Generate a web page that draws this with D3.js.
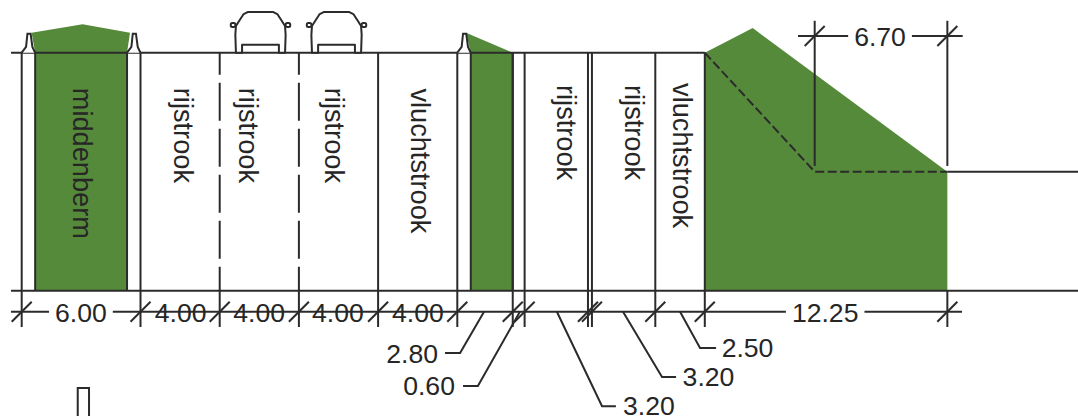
<!DOCTYPE html>
<html>
<head>
<meta charset="utf-8">
<script src="https://cdn.jsdelivr.net/npm/d3@7"></script>
<style>
    html, body { margin: 0; padding: 0; background: #fff; }
    svg { display: block; }
    text { font-family: "Liberation Sans", Arial, sans-serif; fill: #262626; }
</style>
</head>
<body>
<svg id="profile" width="1078" height="416"></svg>
<script>
// widths of the profile parts in metres, left to right
var segmentWidths = [6, 4, 4, 4, 4, 2.8, 0.6, 3.2, 0.2, 3.2, 2.5, 12.25];
var dashedBoundaries = [10, 14];

// lane names: text, baseline in metres, start as height in metres
var laneNames = ["middenberm", "rijstrook", "rijstrook", "rijstrook", "vluchtstrook", "rijstrook", "rijstrook", "vluchtstrook"];
var laneNameAt = [2.59, 7.69, 10.99, 15.32, 19.65, 27.02, 30.46, 32.89];
var laneNameTop = [-1.77, -1.77, -1.77, -1.77, -1.8, -1.63, -1.63, -1.53];

// green verges as [metres, height in metres]
var verges = [
    [[0.5, 1], [3.08, 1.43], [5.47, 1], [5.32, 0], [5.32, -12], [0.68, -12], [0.68, 0]],
    [[22.44, 1], [24.8, 0], [24.8, -12], [22.68, -12], [22.68, 0]],
    [[34.5, 0], [36.92, 1.24], [46.75, -6], [46.75, -12], [34.5, -12]]
];
var vergeEdges = [0.68, 5.32, 22.68, 24.8];
var barriers = [0, 5.32, 22];
var barrierShape = [[0, 0], [0.22, 0.29], [0.29, 0.96], [0.45, 0.96], [0.54, 0.29], [0.68, 0]];
var cars = [12.06, 15.9];
var carShape = [[-1.24, 0], [-0.93, 0], [-0.93, 0.4], [0.93, 0.4], [0.93, 0], [1.24, 0], [1.27, 0.9], [1.24, 1.35], [1.08, 1.6], [0.85, 1.95], [0.65, 2.05], [-0.65, 2.05], [-0.85, 1.95], [-1.08, 1.6], [-1.24, 1.35], [-1.27, 0.9]];
var mirrors = [-1.5, 1.27];

var slopeLine = [[34.5, 0], [40.05, -6], [46.75, -6]];
var dimGroundY = -13.06;
var topDimY = 0.84;
var topDimTicks = [40.05, 46.75];

// dimension texts
var dimLabels = ["6.00", "4.00", "4.00", "4.00", "4.00", "12.25"];
var dimLabelAt = [2.99, 8.03, 11.99, 15.97, 20.01, 40.58];
var topLabel = "6.70";
var topLabelAt = 43.35;

var leaderLabels = ["2.80", "0.60", "3.20", "3.20", "2.50"];
var leaderLabelAt = [21.03, 21.88, 30.37, 33.38, 35.35];
var leaderLabelY = [-15.66, -17.26, -18.27, -16.79, -15.33];
var leaderAnchor = ["end", "end", "start", "start", "start"];
var leaders = [
    [[23.35, -13.06], [22.14, -15.14], [21.38, -15.14]],
    [[25.16, -13.06], [23.04, -16.81], [22.29, -16.81]],
    [[27.03, -13.06], [29.31, -17.82], [30.01, -17.82]],
    [[30.37, -13.06], [32.34, -16.35], [33.05, -16.35]],
    [[33.25, -13.06], [34.26, -14.89], [35.07, -14.89]]
];
var markerBox = [[2.83, -18.6], [2.83, -16.91], [3.4, -16.91], [3.4, -18.6]];

var ink = "#2b2b2b";
var green = "#568a3b";
var strokeWidth = 2;

var total = d3.sum(segmentWidths);
var boundaries = [0].concat(Array.from(d3.cumsum(segmentWidths)));
var x = d3.scaleLinear().domain([0, total]).range([21.7, 947.35]);
var y = d3.scaleLinear().domain([0, -12]).range([52.7, 290.7]);

var svg = d3.select("#profile");
var line = d3.line().x(function (d) { return x(d[0]); }).y(function (d) { return y(d[1]); });

function draw(cls, data, path) {
    return svg.selectAll("path." + cls)
        .data(data)
        .enter()
        .append("path")
        .attr("class", cls)
        .attr("d", path || function (d) { return line(d); })
        .attr("fill", "none")
        .attr("stroke", ink)
        .attr("stroke-width", strokeWidth);
}

// verges first, everything else sits on top
svg.selectAll("path.verge")
    .data(verges)
    .enter()
    .append("path")
    .attr("class", "verge")
    .attr("d", function (d) { return line(d) + "Z"; })
    .attr("fill", green);

draw("edge", vergeEdges.map(function (m) { return [[m, 0], [m, -12]]; }));

// road surface, bottom line and ground to the right
var rightEdge = x.invert(1078);
var leftEdge = x.invert(11);
draw("base", [
    [[leftEdge, 0], [34.5, 0]],
    [[leftEdge, -12], [rightEdge, -12]],
    [[46.75, -6], [rightEdge, -6]]
]);

// boundaries between the parts, dashed ones only between road and bottom line
var ends = -13.83;
var boundaryLines = boundaries.slice(0, -1).map(function (m) {
    return [[m, dashedBoundaries.indexOf(m) >= 0 ? -12 : 0], [m, ends]];
});
boundaryLines.push([[total, -12], [total, ends]]);
draw("boundary", boundaryLines);

draw("lane-dash", dashedBoundaries.map(function (m) { return [[m, 0], [m, -12]]; }))
    .attr("stroke-dasharray", "22 8 38 8 38 8 38 8 38 8 38");

draw("slope", [slopeLine]).attr("stroke-dasharray", "9 3.5");

// barriers and cars are white on top of the line work
draw("barrier", barriers, function (m) {
    return line(barrierShape.map(function (p) { return [m + p[0], p[1]]; }));
}).attr("fill", "#fff");

draw("car", cars, function (c) {
    return line(carShape.map(function (p) { return [c + p[0], p[1]]; })) + "Z";
}).attr("fill", "#fff").attr("stroke-linejoin", "round");

cars.forEach(function (c) {
    svg.selectAll(null)
        .data(mirrors)
        .enter()
        .append("rect")
        .attr("x", function (m) { return x(c + m); })
        .attr("y", y(1.5))
        .attr("width", x(0.23) - x(0))
        .attr("height", y(0) - y(0.2))
        .attr("rx", 1.5)
        .attr("fill", "#fff")
        .attr("stroke", ink)
        .attr("stroke-width", strokeWidth);
});

// lane names, reading top to bottom
svg.selectAll("text.lane")
    .data(laneNames)
    .enter()
    .append("text")
    .attr("class", "lane")
    .attr("transform", function (d, i) {
        return "translate(" + x(laneNameAt[i]) + "," + y(laneNameTop[i]) + ") rotate(90)";
    })
    .attr("font-size", 27.2)
    .text(function (d) { return d; });

// dimension lines with a gap for the wider labels
function dimLine(from, to, yValue) {
    draw("dim-" + Math.abs(Math.round(yValue * 100)), [[[from, yValue], [to, yValue]]]);
}
function ticks(values, yValue) {
    svg.selectAll(null)
        .data(values)
        .enter()
        .append("line")
        .attr("x1", function (m) { return x(m) - 10; })
        .attr("x2", function (m) { return x(m) + 10; })
        .attr("y1", y(yValue) + 10)
        .attr("y2", y(yValue) - 10)
        .attr("stroke", ink)
        .attr("stroke-width", strokeWidth);
}
function dimText(text, at, yValue, anchor, cover) {
    var t = svg.append("text")
        .attr("x", x(at))
        .attr("y", y(yValue))
        .attr("font-size", 26.6)
        .attr("text-anchor", anchor)
        .text(text);
    if (cover) {
        var box = t.node().getBBox();
        svg.append("rect")
            .attr("x", box.x - 6)
            .attr("y", box.y + 6)
            .attr("width", box.width + 12)
            .attr("height", box.height - 12)
            .attr("fill", "#fff");
        t.raise();
    }
}

dimLine(leftEdge, x.invert(962), dimGroundY);
ticks(boundaries, dimGroundY);
dimLabels.forEach(function (d, i) {
    dimText(d, dimLabelAt[i], -13.56, "middle", d !== "4.00");
});

// dimension above the slope
dimLine(x.invert(798), x.invert(962.7), topDimY);
draw("top-tick", topDimTicks.map(function (m) { return [[m, 1.61], [m, -5.71]]; }));
ticks(topDimTicks, topDimY);
dimText(topLabel, topLabelAt, 0.34, "middle", true);

// leaders for the narrow parts
draw("leader", leaders);
leaderLabels.forEach(function (d, i) {
    dimText(d, leaderLabelAt[i], leaderLabelY[i], leaderAnchor[i], false);
});

draw("marker", [markerBox]);
</script>
</body>
</html>
